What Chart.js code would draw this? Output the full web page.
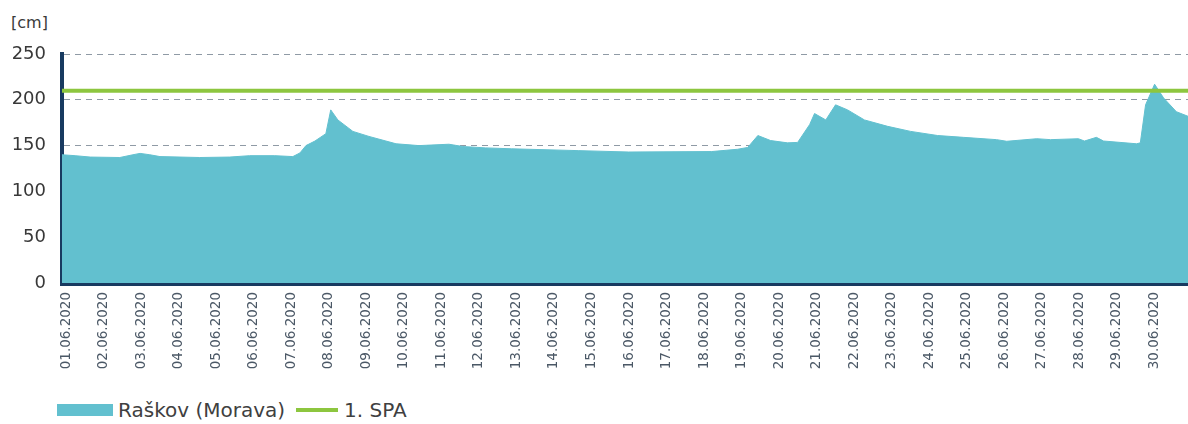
<!DOCTYPE html>
<html>
<head>
<meta charset="utf-8">
<script src="https://cdn.jsdelivr.net/npm/chart.js@4/dist/chart.umd.min.js"></script>
<style>
  html, body { margin: 0; padding: 0; background: #ffffff; }
  #wrap { position: relative; width: 1188px; height: 424px; overflow: hidden; font-family: "DejaVu Sans", sans-serif; }
  #chartBox { position: absolute; left: 0; top: 0; width: 1188px; height: 384px; }
  #unit { position: absolute; left: 11px; top: 13px; font-size: 16px; line-height: 20px; color: #3a3a3a; }
  #legend { position: absolute; left: 57px; top: 398px; height: 24px; display: flex; align-items: center; font-size: 20px; color: #404040; }
  .sw-area { width: 56px; height: 12px; background: #62c0cf; margin-right: 5px; }
  .sw-line { width: 42px; height: 4px; background: #8dc63f; margin-left: 11px; margin-right: 6px; }
</style>
</head>
<body>
<div id="wrap">
  <div id="unit">[cm]</div>
  <div id="chartBox"><canvas id="c" width="1188" height="384"></canvas></div>
  <div id="legend">
    <span class="sw-area"></span><span id="lgA"></span>
    <span class="sw-line"></span><span id="lgB"></span>
  </div>
</div>
<script>
// Water level at Raškov (Morava), June 2020; time is given in days since 01.06.2020 00:00
const seriesName = 'Raškov (Morava)';
const limitName = '1. SPA';
const dayOffset = [0, 0.35, 0.75, 1.54, 1.89, 2.08, 2.34, 2.61, 3.67, 4.47, 5.0, 5.67,
  6.15, 6.34, 6.5, 6.74, 7.03, 7.16, 7.35, 7.75, 8.18, 8.63, 8.9, 9.51, 10.31, 10.68,
  11.29, 11.98, 13.77, 15.1, 17.31, 18.0, 18.27, 18.54, 18.88, 19.33, 19.6, 19.92,
  20.05, 20.35, 20.61, 20.93, 21.38, 22.0, 22.61, 23.33, 24.02, 24.9, 25.17, 25.97,
  26.34, 27.08, 27.24, 27.56, 27.75, 28.63, 28.73, 28.87, 29.11, 29.35, 29.69, 30.0];
const levelCm = [140, 139, 137.5, 137, 140, 141.5, 140, 138, 137, 137.5, 139, 139,
  138, 142, 150, 155, 163, 189, 178, 165.5, 160, 155, 152, 150, 151.5, 149,
  147.5, 146.5, 144.5, 143, 143.5, 146, 148, 161, 155.5, 153, 153.5, 173,
  185, 178, 194.5, 189, 178, 171, 165.5, 161, 159, 156.5, 154.7, 157.5,
  156.5, 157.5, 155, 159, 155, 152, 153, 194.5, 217, 202, 187, 182];
const spaLevel = 210;
const dayLabels = ['01.06.2020', '02.06.2020', '03.06.2020', '04.06.2020', '05.06.2020',
  '06.06.2020', '07.06.2020', '08.06.2020', '09.06.2020', '10.06.2020', '11.06.2020',
  '12.06.2020', '13.06.2020', '14.06.2020', '15.06.2020', '16.06.2020', '17.06.2020',
  '18.06.2020', '19.06.2020', '20.06.2020', '21.06.2020', '22.06.2020', '23.06.2020',
  '24.06.2020', '25.06.2020', '26.06.2020', '27.06.2020', '28.06.2020', '29.06.2020',
  '30.06.2020'];
const yTicks = [0, 50, 100, 150, 200, 250];

document.getElementById('lgA').textContent = seriesName;
document.getElementById('lgB').textContent = limitName;

const levelPoints = dayOffset.map((d, i) => ({ x: d, y: levelCm[i] }));
const spaPoints = [{ x: 0, y: spaLevel }, { x: dayLabels.length, y: spaLevel }];

const navy = '#183a60';

new Chart(document.getElementById('c'), {
  type: 'line',
  data: {
    datasets: [
      {
        label: limitName,
        data: spaPoints,
        borderColor: '#8dc63f',
        borderWidth: 4,
        pointRadius: 0,
        fill: false,
        order: 0
      },
      {
        label: seriesName,
        data: levelPoints,
        borderColor: '#62c0cf',
        backgroundColor: '#62c0cf',
        borderWidth: 1,
        pointRadius: 0,
        tension: 0,
        fill: 'origin',
        order: 1
      }
    ]
  },
  options: {
    responsive: false,
    animation: false,
    events: [],
    layout: { padding: { top: 54, right: 0, bottom: 0, left: 0 } },
    plugins: { legend: { display: false }, tooltip: { enabled: false } },
    scales: {
      x: {
        type: 'linear',
        min: 0,
        max: dayLabels.length,
        grid: { display: false, drawTicks: false },
        border: { display: true, color: navy, width: 5 },
        afterBuildTicks: s => { s.ticks = dayLabels.map((_, i) => ({ value: i })); },
        afterFit: s => { s.height = 101; },
        ticks: {
          autoSkip: false,
          minRotation: 90,
          maxRotation: 90,
          padding: 9,
          labelOffset: 4,
          color: '#4b5866',
          font: { family: 'DejaVu Sans', size: 13.5 },
          callback: v => dayLabels[v]
        }
      },
      y: {
        min: 0,
        max: 250,
        afterBuildTicks: s => { s.ticks = yTicks.map(v => ({ value: v })); },
        afterFit: s => { s.width = 62; },
        grid: {
          color: '#8f9aa5',
          lineWidth: 1,
          drawTicks: false
        },
        // in Chart.js v4 the grid-line dash pattern lives under border.dash
        border: { display: true, color: navy, width: 4, dash: [6, 5] },
        ticks: {
          padding: 16,
          color: '#383838',
          font: { family: 'DejaVu Sans', size: 18 }
        }
      }
    }
  }
});
</script>
</body>
</html>
